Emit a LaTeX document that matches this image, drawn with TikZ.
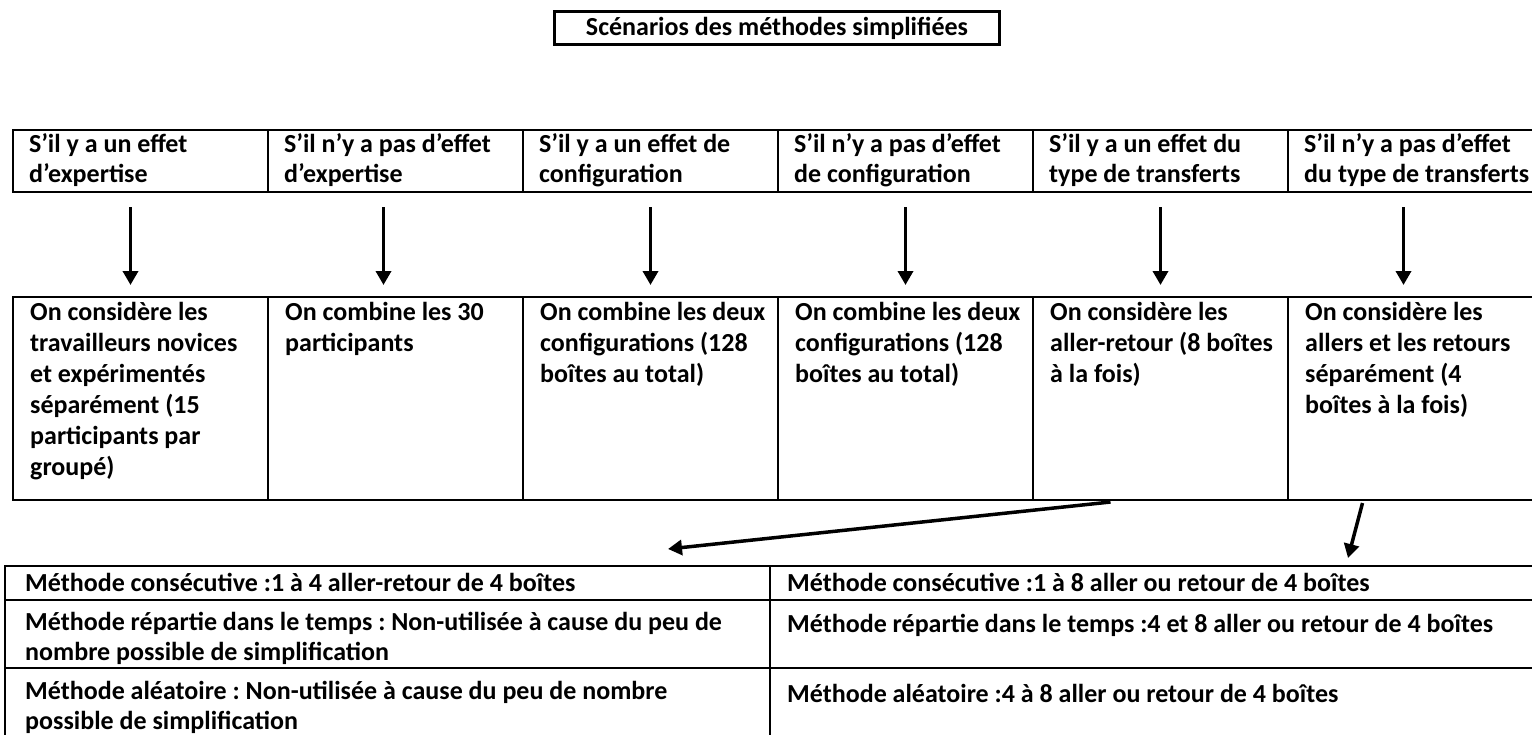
\documentclass[tikz,border=0pt]{standalone}
\usepackage{fontspec}
\setmainfont{Carlito}
\frenchspacing
\usetikzlibrary{arrows.meta}

\begin{document}
\begin{tikzpicture}[x=1pt,y=-1pt,font=\bfseries\fontsize{26}{30}\selectfont,
  cell/.style={draw,line width=2.5pt,anchor=north west,inner sep=0pt,outer sep=0pt},
  top/.style={cell,minimum width=255pt,minimum height=62pt},
  mid/.style={cell,minimum width=255pt,minimum height=203pt},
  txt/.style={anchor=north west,align=left,inner sep=0pt,execute at begin node=\strut},
  arr/.style={line width=3.5pt,-{Triangle[length=14pt,width=15pt]}}]
\useasboundingbox (0,0) rectangle (1532,734);
\clip (0,0) rectangle (1532,734);
% titre
\node[cell,anchor=center,minimum width=445pt,minimum height=33pt] (S) at (777,28) {Scénarios des méthodes simplifiées};
% ligne des effets
\node[top] (T1) at (13,130) {};
\node[top] (T2) at (268,130) {};
\node[top] (T3) at (523,130) {};
\node[top] (T4) at (778,130) {};
\node[top] (T5) at (1033,130) {};
\node[top] (T6) at (1288,130) {};
\node[txt] (t1) at ([xshift=16pt,yshift=-3pt]T1.north west) {S’il y a un effet\\d’expertise};
\node[txt] (t2) at ([xshift=16pt,yshift=-3pt]T2.north west) {S’il n’y a pas d’effet\\d’expertise};
\node[txt] (t3) at ([xshift=16pt,yshift=-3pt]T3.north west) {S’il y a un effet de\\configuration};
\node[txt] (t4) at ([xshift=16pt,yshift=-3pt]T4.north west) {S’il n’y a pas d’effet\\de configuration};
\node[txt] (t5) at ([xshift=16pt,yshift=-3pt]T5.north west) {S’il y a un effet du\\type de transferts};
\node[txt] (t6) at ([xshift=16pt,yshift=-3pt]T6.north west) {S’il n’y a pas d’effet\\du type de transferts};
% ligne des choix
\node[mid] (M1) at (13,297) {};
\node[mid] (M2) at (268,297) {};
\node[mid] (M3) at (523,297) {};
\node[mid] (M4) at (778,297) {};
\node[mid] (M5) at (1033,297) {};
\node[mid] (M6) at (1288,297) {};
\tikzset{txtm/.style={txt,font=\bfseries\fontsize{26}{31}\selectfont}}
\node[txtm] (m1) at ([xshift=17pt,yshift=-5pt]M1.north west) {On considère les\\travailleurs novices\\et expérimentés\\séparément (15\\participants par\\groupé)};
\node[txtm] (m2) at ([xshift=17pt,yshift=-5pt]M2.north west) {On combine les 30\\participants};
\node[txtm] (m3) at ([xshift=17pt,yshift=-5pt]M3.north west) {On combine les deux\\configurations (128\\boîtes au total)};
\node[txtm] (m4) at ([xshift=17pt,yshift=-5pt]M4.north west) {On combine les deux\\configurations (128\\boîtes au total)};
\node[txtm] (m5) at ([xshift=17pt,yshift=-5pt]M5.north west) {On considère les\\aller-retour (8 boîtes\\à la fois)};
\node[txtm] (m6) at ([xshift=17pt,yshift=-5pt]M6.north west) {On considère les\\allers et les retours\\séparément (4\\boîtes à la fois)};
\draw[arr,shorten <=15pt,shorten >=12pt] ([xshift=-10pt]T1.south) -- ([xshift=-10pt]M1.north);
\draw[arr,shorten <=15pt,shorten >=12pt] ([xshift=-12pt]T2.south) -- ([xshift=-12pt]M2.north);
\draw[arr,shorten <=15pt,shorten >=12pt] (T3.south) -- (M3.north);
\draw[arr,shorten <=15pt,shorten >=12pt] (T4.south) -- (M4.north);
\draw[arr,shorten <=15pt,shorten >=12pt] (T5.south) -- (M5.north);
\draw[arr,shorten <=15pt,shorten >=12pt] ([xshift=-12pt]T6.south) -- ([xshift=-12pt]M6.north);
% tableau des methodes
\node[cell,minimum width=765pt,minimum height=34pt] (L1) at (5,566) {};
\node[cell,minimum width=765pt,minimum height=68pt] (L2) at (5,600) {};
\node[cell,minimum width=765pt,minimum height=72pt] (L3) at (5,668) {};
\node[cell,minimum width=775pt,minimum height=34pt] (R1) at (770,566) {};
\node[cell,minimum width=775pt,minimum height=68pt] (R2) at (770,600) {};
\node[cell,minimum width=775pt,minimum height=72pt] (R3) at (770,668) {};
\node[txt] (l1) at ([xshift=20pt,yshift=-4pt]L1.north west) {Méthode consécutive :1 à 4 aller-retour de 4 boîtes};
\node[txt] (l2) at ([xshift=20pt,yshift=-12pt]L2.north west) {Méthode répartie dans le temps : Non-utilisée à cause du peu de\\nombre possible de simplification};
\node[txt] (l3) at ([xshift=20pt,yshift=-13pt]L3.north west) {Méthode aléatoire : Non-utilisée à cause du peu de nombre\\possible de simplification};
\node[txt] (r1) at ([xshift=17pt,yshift=-4pt]R1.north west) {Méthode consécutive :1 à 8 aller ou retour de 4 boîtes};
\node[txt] (r2) at ([xshift=17pt,yshift=-11pt]R2.north west) {Méthode répartie dans le temps :4 et 8 aller ou retour de 4 boîtes};
\node[txt] (r3) at ([xshift=17pt,yshift=-13pt]R3.north west) {Méthode aléatoire :4 à 8 aller ou retour de 4 boîtes};
\coordinate (P) at (668,549);
\coordinate (Q) at (1348,558);
\draw[arr] ([xshift=-50pt,yshift=-2pt]M5.south) -- (P);
\draw[arr] ([xshift=-53pt,yshift=-3pt]M6.south) -- (Q);
\end{tikzpicture}
\end{document}
